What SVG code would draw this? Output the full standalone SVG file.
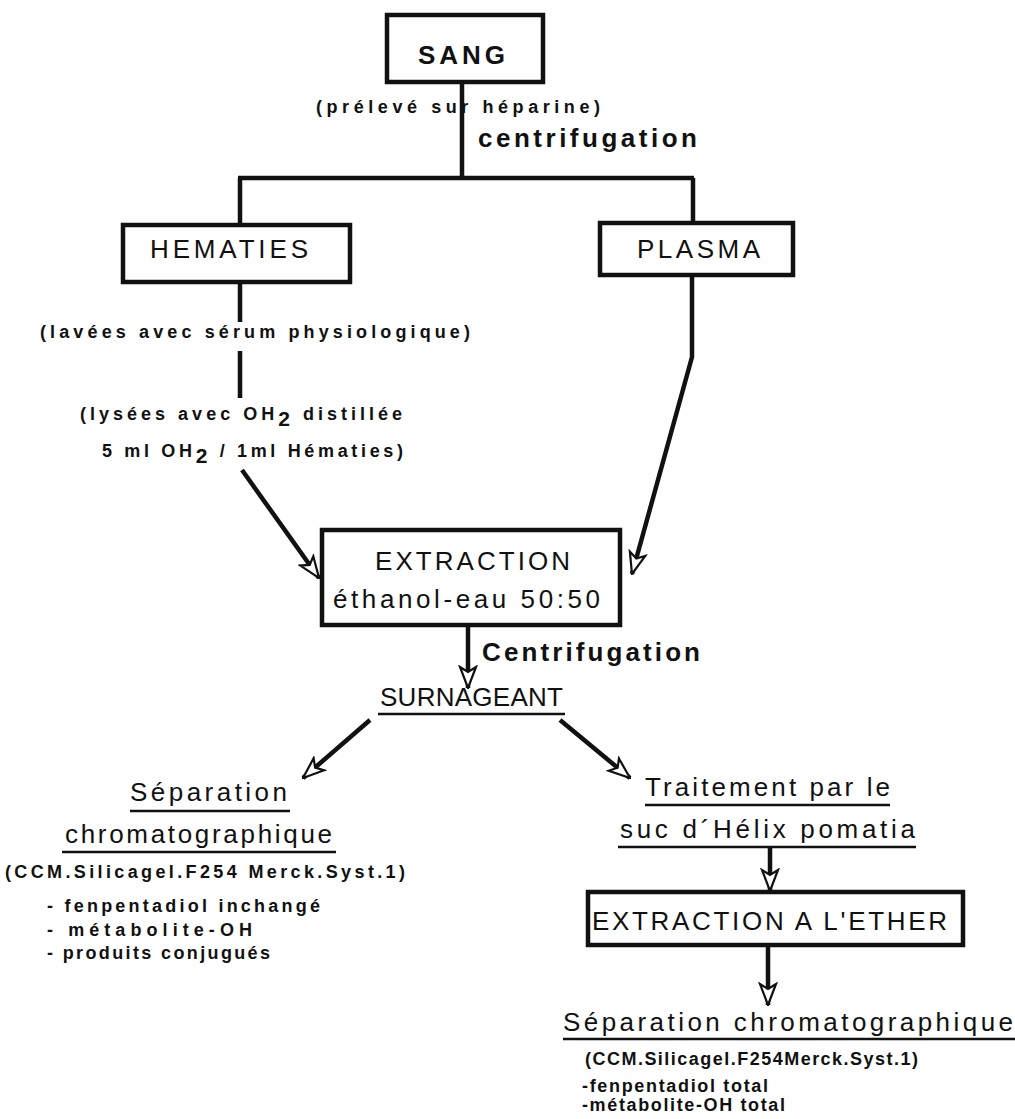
<svg xmlns="http://www.w3.org/2000/svg" width="1015" height="1119" viewBox="0 0 1015 1119">
<defs>
<marker id="ah" viewBox="0 0 24 20" refX="23" refY="10" markerWidth="24" markerHeight="20" markerUnits="userSpaceOnUse" orient="auto">
<path d="M2,2 L23,10 L2,18 L7,10 Z" fill="#fff" stroke="#111" stroke-width="2.2" stroke-linejoin="miter"/>
</marker>
</defs>
<style>
.box{fill:#fff;stroke:#111;stroke-width:4.5}
.ln{fill:none;stroke:#111;stroke-width:4.5}
.big{font-family:"Liberation Sans",Arial,sans-serif;font-size:26px;fill:#111}
.sm{font-family:"Liberation Sans",Arial,sans-serif;font-size:18px;font-weight:bold;fill:#111}
.ul{stroke:#111;stroke-width:2.5}
</style>
<rect width="1015" height="1119" fill="#fff"/>
<g id="connectors">
<path class="ln" d="M462,82 V178"/>
<path class="ln" d="M238,178 H694"/>
<path class="ln" d="M240,178 V225"/>
<path class="ln" d="M693,178 V223"/>
<path class="ln" d="M240,282 V322"/>
<path class="ln" d="M240,351 V398"/>
<path class="ln" d="M242,470 L319,578" marker-end="url(#ah)"/>
<path class="ln" d="M692,275 V357 L632,574" marker-end="url(#ah)"/>
<path class="ln" d="M468,625 V688" marker-end="url(#ah)"/>
<path class="ln" d="M370,720 L303,778" marker-end="url(#ah)"/>
<path class="ln" d="M560,720 L630,778" marker-end="url(#ah)"/>
<path class="ln" d="M770,847 V891" marker-end="url(#ah)"/>
<path class="ln" d="M768,945 V1005" marker-end="url(#ah)"/>
</g>
<g id="sang">
<rect class="box" x="387" y="15" width="156" height="67"/>
<text x="418" y="64" class="big" font-weight="bold" font-size="22" textLength="87" lengthAdjust="spacing">SANG</text>
</g>
<g id="label-preleve">
<text x="316" y="113" class="sm" font-size="18" textLength="284" lengthAdjust="spacing">(prélevé sur héparine)</text>
</g>
<g id="label-centrifugation">
<text x="478" y="147" class="big" font-weight="bold" font-size="21" textLength="219" lengthAdjust="spacing">centrifugation</text>
</g>
<g id="hematies">
<rect class="box" x="123" y="225" width="227" height="57"/>
<text x="150" y="258" class="big" font-size="21" textLength="158" lengthAdjust="spacing">HEMATIES</text>
</g>
<g id="plasma">
<rect class="box" x="600" y="223" width="193" height="52"/>
<text x="637" y="258" class="big" font-size="22" textLength="123" lengthAdjust="spacing">PLASMA</text>
</g>
<g id="label-lavees">
<text x="40" y="338" class="sm" textLength="430" lengthAdjust="spacing">(lavées avec sérum physiologique)</text>
</g>
<g id="label-lysees">
<text x="80" y="420" class="sm" textLength="322" lengthAdjust="spacing">(lysées avec OH<tspan font-size="21" dy="6">2</tspan><tspan dy="-6"> distillée</tspan></text>
<text x="102" y="457" class="sm" textLength="301" lengthAdjust="spacing">5 ml OH<tspan font-size="21" dy="6">2</tspan><tspan dy="-6"> / 1ml Hématies)</tspan></text>
</g>
<g id="extraction">
<rect class="box" x="322" y="530" width="298" height="95"/>
<text x="375" y="570" class="big" font-size="28" textLength="195" lengthAdjust="spacing">EXTRACTION</text>
<text x="333" y="608" class="big" font-size="28" textLength="267" lengthAdjust="spacing">éthanol-eau 50:50</text>
</g>
<g id="label-centrifugation2">
<text x="482" y="661" class="big" font-weight="bold" font-size="22" textLength="218" lengthAdjust="spacing">Centrifugation</text>
</g>
<g id="surnageant">
<text x="380" y="706" class="big" font-size="23" textLength="183" lengthAdjust="spacing">SURNAGEANT</text>
<line class="ul" x1="378" y1="714" x2="565" y2="714"/>
</g>
<g id="separation1">
<text x="130" y="801" class="big" textLength="157" lengthAdjust="spacing">Séparation</text>
<line class="ul" x1="130" y1="811" x2="290" y2="811"/>
<text x="65" y="843" class="big" textLength="267" lengthAdjust="spacing">chromatographique</text>
<line class="ul" x1="62" y1="852" x2="336" y2="852"/>
<text x="5" y="878" class="sm" font-size="19" textLength="400" lengthAdjust="spacing">(CCM.Silicagel.F254 Merck.Syst.1)</text>
<text x="47" y="912" class="sm" font-size="17" textLength="273" lengthAdjust="spacing">-  fenpentadiol  inchangé</text>
<text x="47" y="936" class="sm" font-size="17" textLength="205" lengthAdjust="spacing">-  métabolite-OH</text>
<text x="47" y="959" class="sm" font-size="17" textLength="223" lengthAdjust="spacing">-  produits conjugués</text>
</g>
<g id="traitement">
<text x="645" y="796" class="big" textLength="245" lengthAdjust="spacing">Traitement par le</text>
<line class="ul" x1="645" y1="805" x2="890" y2="805"/>
<text x="620" y="838" class="big" textLength="295" lengthAdjust="spacing">suc d´Hélix pomatia</text>
<line class="ul" x1="618" y1="847" x2="916" y2="847"/>
</g>
<g id="extraction-ether">
<rect class="box" x="588" y="892" width="375" height="53"/>
<text x="592" y="930" class="big" font-size="27" textLength="355" lengthAdjust="spacing">EXTRACTION A L'ETHER</text>
</g>
<g id="separation2">
<text x="563" y="1031" class="big" textLength="450" lengthAdjust="spacing">Séparation chromatographique</text>
<line class="ul" x1="563" y1="1039" x2="1015" y2="1039"/>
<text x="585" y="1065" class="sm" font-size="17" textLength="333" lengthAdjust="spacing">(CCM.Silicagel.F254Merck.Syst.1)</text>
<text x="582" y="1092" class="sm" font-size="16" textLength="186" lengthAdjust="spacing">-fenpentadiol  total</text>
<text x="582" y="1111" class="sm" font-size="16" textLength="203" lengthAdjust="spacing">-métabolite-OH total</text>
</g>
</svg>
